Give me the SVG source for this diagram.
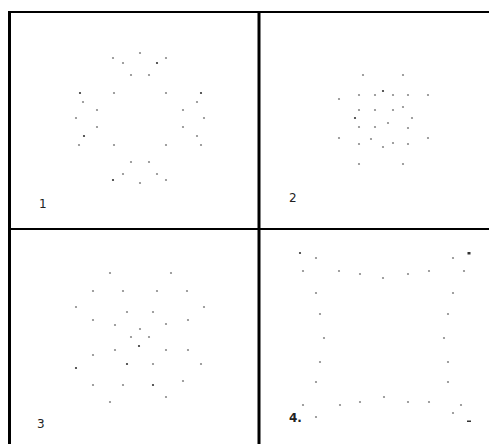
<svg xmlns="http://www.w3.org/2000/svg" width="489" height="444" viewBox="0 0 489 444">
<style>
.frame{stroke:#000;fill:none}
.d{fill:#8a8a8a}
.k{fill:#333}
.lbl{font-family:"DejaVu Sans",sans-serif;font-size:12px;fill:#222}
</style>
<defs>
<circle id="p" r="1.1"/>
</defs>
<rect width="489" height="444" fill="#fff"/>
<g id="frame">
<line class="frame" x1="9.5" y1="11" x2="9.5" y2="444" stroke-width="3"/>
<line class="frame" x1="8" y1="12" x2="489" y2="12" stroke-width="2"/>
<line class="frame" x1="259" y1="12" x2="259" y2="444" stroke-width="3"/>
<line class="frame" x1="9" y1="229" x2="489" y2="229" stroke-width="2"/>
</g>
<g id="panel1" class="d">
<use href="#p" x="113" y="58"/><use href="#p" x="140" y="53"/><use href="#p" x="166" y="58"/>
<use href="#p" x="123" y="63"/><use href="#p" x="157" y="63" class="k"/>
<use href="#p" x="131" y="75"/><use href="#p" x="149" y="75"/>
<use href="#p" x="80" y="93" class="k"/><use href="#p" x="114" y="93"/><use href="#p" x="166" y="93"/><use href="#p" x="201" y="93" class="k"/>
<use href="#p" x="83" y="102"/><use href="#p" x="197" y="102"/>
<use href="#p" x="97" y="110"/><use href="#p" x="183" y="110"/>
<use href="#p" x="76" y="118"/><use href="#p" x="204" y="118"/>
<use href="#p" x="97" y="127"/><use href="#p" x="183" y="127"/>
<use href="#p" x="84" y="136" class="k"/><use href="#p" x="197" y="136"/>
<use href="#p" x="79" y="145"/><use href="#p" x="114" y="145"/><use href="#p" x="166" y="145"/><use href="#p" x="201" y="145"/>
<use href="#p" x="131" y="162"/><use href="#p" x="149" y="162"/>
<use href="#p" x="123" y="174"/><use href="#p" x="157" y="174"/>
<use href="#p" x="113" y="180" class="k"/><use href="#p" x="140" y="183"/><use href="#p" x="166" y="180"/>
<text class="lbl" x="39" y="208">1</text>
</g>
<g id="panel2" class="d">
<use href="#p" x="363" y="75"/><use href="#p" x="403" y="75"/>
<use href="#p" x="383" y="91" class="k"/>
<use href="#p" x="339" y="99"/>
<use href="#p" x="359" y="95"/><use href="#p" x="375" y="95"/><use href="#p" x="393" y="95"/><use href="#p" x="408" y="95"/><use href="#p" x="428" y="95"/>
<use href="#p" x="359" y="110"/><use href="#p" x="375" y="110"/><use href="#p" x="393" y="110"/><use href="#p" x="403" y="107"/>
<use href="#p" x="355" y="118" class="k"/><use href="#p" x="412" y="118"/>
<use href="#p" x="359" y="127"/><use href="#p" x="375" y="127"/><use href="#p" x="388" y="123"/><use href="#p" x="408" y="128"/>
<use href="#p" x="339" y="138"/><use href="#p" x="428" y="138"/>
<use href="#p" x="359" y="144"/><use href="#p" x="371" y="139"/><use href="#p" x="383" y="147"/><use href="#p" x="393" y="143"/><use href="#p" x="408" y="144"/>
<use href="#p" x="359" y="164"/><use href="#p" x="403" y="164"/>
<text class="lbl" x="289" y="202">2</text>
</g>
<g id="panel3" class="d">
<use href="#p" x="110" y="273"/><use href="#p" x="171" y="273"/>
<use href="#p" x="93" y="291"/><use href="#p" x="123" y="291"/><use href="#p" x="157" y="291"/><use href="#p" x="187" y="291"/>
<use href="#p" x="76" y="307"/><use href="#p" x="204" y="307"/>
<use href="#p" x="127" y="312"/><use href="#p" x="153" y="312"/>
<use href="#p" x="93" y="320"/><use href="#p" x="115" y="325"/><use href="#p" x="140" y="329"/><use href="#p" x="166" y="324"/><use href="#p" x="188" y="320"/>
<use href="#p" x="131" y="337"/><use href="#p" x="149" y="337"/>
<use href="#p" x="139" y="346" class="k"/>
<use href="#p" x="115" y="350"/><use href="#p" x="93" y="355"/><use href="#p" x="166" y="350"/><use href="#p" x="188" y="350"/>
<use href="#p" x="76" y="368" class="k"/><use href="#p" x="127" y="364" class="k"/><use href="#p" x="153" y="364"/><use href="#p" x="201" y="364"/>
<use href="#p" x="93" y="385"/><use href="#p" x="123" y="385"/><use href="#p" x="153" y="385" class="k"/><use href="#p" x="183" y="381"/>
<use href="#p" x="110" y="402"/><use href="#p" x="166" y="397"/>
<text class="lbl" x="37" y="428">3</text>
</g>
<g id="panel4" class="d">
<use href="#p" x="300" y="253" class="k"/><use href="#p" x="316" y="258"/>
<rect x="467.5" y="252" width="3" height="2.5" class="k"/><use href="#p" x="453" y="258"/>
<use href="#p" x="303" y="271"/><use href="#p" x="339" y="271"/><use href="#p" x="360" y="274"/><use href="#p" x="383" y="278"/><use href="#p" x="408" y="274"/><use href="#p" x="429" y="271"/><use href="#p" x="464" y="271"/>
<use href="#p" x="316" y="293"/><use href="#p" x="453" y="293"/>
<use href="#p" x="320" y="314"/><use href="#p" x="448" y="314"/>
<use href="#p" x="324" y="338"/><use href="#p" x="444" y="338"/>
<use href="#p" x="320" y="362"/><use href="#p" x="448" y="362"/>
<use href="#p" x="316" y="382"/><use href="#p" x="448" y="382"/>
<use href="#p" x="303" y="405"/><use href="#p" x="340" y="405"/><use href="#p" x="360" y="402"/><use href="#p" x="384" y="397"/><use href="#p" x="408" y="402"/><use href="#p" x="429" y="402"/><use href="#p" x="461" y="405"/>
<use href="#p" x="316" y="417"/><use href="#p" x="453" y="413"/>
<rect x="467" y="420.5" width="4" height="1.5" class="k"/>
<text class="lbl" x="289" y="422" font-weight="bold">4.</text>
</g>
</svg>
